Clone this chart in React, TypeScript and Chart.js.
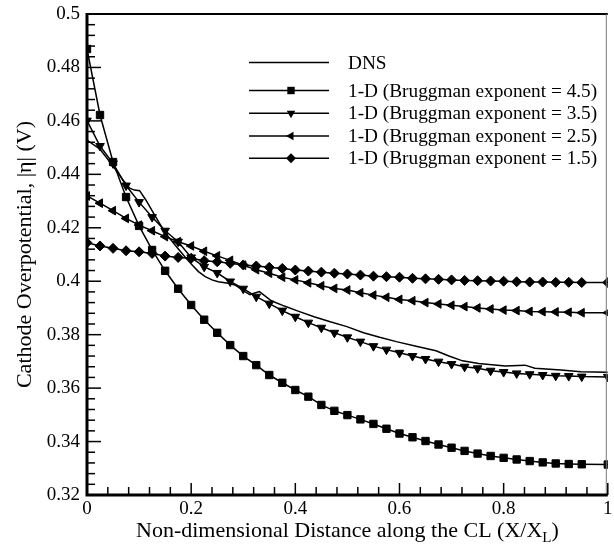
import React, { useEffect, useRef } from 'react';
import { Chart, registerables } from 'chart.js';

Chart.register(...registerables);

const X_MARK = [0, 0.025, 0.05, 0.075, 0.1, 0.125, 0.15, 0.175, 0.2, 0.225, 0.25, 0.275, 0.3, 0.325, 0.35, 0.375, 0.4, 0.425, 0.45, 0.475, 0.5, 0.525, 0.55, 0.575, 0.6, 0.625, 0.65, 0.675, 0.7, 0.725, 0.75, 0.775, 0.8, 0.825, 0.85, 0.875, 0.9, 0.925, 0.95, 1.0];

const BRUG_45 = [0.4869, 0.4622, 0.4446, 0.4315, 0.4207, 0.4117, 0.4039, 0.3972, 0.3911, 0.3856, 0.3807, 0.3761, 0.3720, 0.3686, 0.3649, 0.3620, 0.3593, 0.3568, 0.3537, 0.3515, 0.3499, 0.3483, 0.3466, 0.3448, 0.3430, 0.3416, 0.3402, 0.3389, 0.3377, 0.3365, 0.3355, 0.3346, 0.3339, 0.3333, 0.3327, 0.3322, 0.3318, 0.3316, 0.3315, 0.3314];
const BRUG_35 = [0.4601, 0.4506, 0.4441, 0.4358, 0.4296, 0.4240, 0.4189, 0.4148, 0.4089, 0.4054, 0.4031, 0.3999, 0.3972, 0.3942, 0.3916, 0.3890, 0.3867, 0.3845, 0.3826, 0.3807, 0.3790, 0.3774, 0.3757, 0.3744, 0.3732, 0.3720, 0.3709, 0.3699, 0.3690, 0.3680, 0.3674, 0.3665, 0.3660, 0.3655, 0.3652, 0.3649, 0.3646, 0.3645, 0.3643, 0.3642];
const BRUG_25 = [0.4319, 0.4292, 0.4264, 0.4235, 0.4210, 0.4189, 0.4167, 0.4148, 0.4132, 0.4112, 0.4095, 0.4078, 0.4060, 0.4043, 0.4030, 0.4015, 0.4005, 0.3994, 0.3983, 0.3973, 0.3967, 0.3957, 0.3948, 0.3940, 0.3932, 0.3927, 0.3920, 0.3915, 0.3910, 0.3905, 0.3900, 0.3896, 0.3892, 0.3890, 0.3887, 0.3886, 0.3885, 0.3884, 0.3882, 0.3882];
const BRUG_15 = [0.4144, 0.4132, 0.4123, 0.4114, 0.4110, 0.4104, 0.4094, 0.4089, 0.4086, 0.4077, 0.4073, 0.4067, 0.4061, 0.4057, 0.4052, 0.4048, 0.4042, 0.4038, 0.4034, 0.4030, 0.4027, 0.4023, 0.4019, 0.4017, 0.4015, 0.4011, 0.4009, 0.4007, 0.4005, 0.4003, 0.4002, 0.4001, 0.4000, 0.3998, 0.3997, 0.3997, 0.3996, 0.3996, 0.3995, 0.3995];

const DNS_X = [0, 0.025, 0.05, 0.069, 0.082, 0.091, 0.101, 0.113, 0.126, 0.139, 0.151, 0.164, 0.177, 0.189, 0.202, 0.214, 0.227, 0.240, 0.252, 0.271, 0.284, 0.303, 0.313, 0.331, 0.354, 0.379, 0.404, 0.436, 0.467, 0.499, 0.531, 0.562, 0.594, 0.632, 0.670, 0.695, 0.721, 0.752, 0.803, 0.841, 0.860, 0.910, 0.948, 1.0];
const DNS_Y = [0.4528, 0.4494, 0.4431, 0.4379, 0.4348, 0.4341, 0.4339, 0.4304, 0.4260, 0.4217, 0.4179, 0.4148, 0.4117, 0.4089, 0.4061, 0.4036, 0.4017, 0.4005, 0.3998, 0.3992, 0.3986, 0.3961, 0.3950, 0.3961, 0.3927, 0.3907, 0.3889, 0.3867, 0.3848, 0.3830, 0.3807, 0.3790, 0.3774, 0.3757, 0.3740, 0.3720, 0.3702, 0.3692, 0.3683, 0.3686, 0.3674, 0.3668, 0.3661, 0.3659];

const X_TICKS = [0, 0.2, 0.4, 0.6, 0.8, 1];
const Y_TICKS = [0.32, 0.34, 0.36, 0.38, 0.4, 0.42, 0.44, 0.46, 0.48, 0.5];
const LEGEND_LABELS = ['DNS', '1-D (Bruggman exponent = 4.5)', '1-D (Bruggman exponent = 3.5)', '1-D (Bruggman exponent = 2.5)', '1-D (Bruggman exponent = 1.5)'];
const X_TITLE = 'Non-dimensional Distance along the CL (X/X';
const X_TITLE_SUB = 'L';
const Y_TITLE = 'Cathode Overpotential, |\u03b7| (V)';

const FONT = '"Liberation Serif", "Times New Roman", serif';

const fmt = (v: number) => String(parseFloat(Number(v).toFixed(3)));

function drawMarker(ctx: CanvasRenderingContext2D, kind: string, x: number, y: number) {
  ctx.beginPath();
  if (kind === 'square') {
    ctx.rect(x - 3.7, y - 3.7, 7.4, 7.4);
  } else if (kind === 'down') {
    ctx.moveTo(x - 4.3, y - 2.5);
    ctx.lineTo(x + 4.3, y - 2.5);
    ctx.lineTo(x, y + 5);
  } else if (kind === 'left') {
    ctx.moveTo(x - 5, y);
    ctx.lineTo(x + 2.5, y - 4.3);
    ctx.lineTo(x + 2.5, y + 4.3);
  } else if (kind === 'diamond') {
    ctx.moveTo(x, y - 5);
    ctx.lineTo(x + 5, y);
    ctx.lineTo(x, y + 5);
    ctx.lineTo(x - 5, y);
  }
  ctx.closePath();
  ctx.fill();
}

const decorPlugin = {
  id: 'decor',
  afterDatasetsDraw(chart: any) {
    const { ctx, chartArea: a, scales } = chart;
    const xs = scales.x;
    const ys = scales.y;
    ctx.save();
    ctx.strokeStyle = '#000';
    ctx.fillStyle = '#000';
    // minor + major ticks (inward)
    ctx.lineWidth = 1.5;
    for (let i = 0; i <= 25; i++) {
      const v = i * 0.04;
      const px = xs.getPixelForValue(v);
      const len = i % 5 === 0 ? 12 : 8;
      ctx.beginPath();
      ctx.moveTo(px, a.bottom);
      ctx.lineTo(px, a.bottom - len);
      ctx.stroke();
    }
    for (let i = 0; i <= 45; i++) {
      const v = 0.32 + i * 0.004;
      const py = ys.getPixelForValue(v);
      const len = i % 5 === 0 ? 14 : 8;
      ctx.beginPath();
      ctx.moveTo(a.left, py);
      ctx.lineTo(a.left + len, py);
      ctx.stroke();
    }
    // frame
    ctx.lineWidth = 2;
    ctx.beginPath();
    ctx.moveTo(a.left, a.top);
    ctx.lineTo(a.right, a.top);
    ctx.stroke();
    ctx.strokeStyle = '#777';
    ctx.lineWidth = 1;
    ctx.beginPath();
    ctx.moveTo(a.right - 1.5, a.top);
    ctx.lineTo(a.right - 1.5, a.bottom);
    ctx.stroke();
    ctx.strokeStyle = '#000';
    ctx.lineWidth = 3;
    ctx.beginPath();
    ctx.moveTo(a.left, a.top - 1);
    ctx.lineTo(a.left, a.bottom);
    ctx.lineTo(a.right, a.bottom);
    ctx.stroke();

    // legend
    const rows = [62.5, 90.5, 113.3, 136, 158.3];
    const kinds = ['', 'square', 'down', 'left', 'diamond'];
    ctx.lineWidth = 1.5;
    ctx.font = '19.3px ' + FONT;
    ctx.textBaseline = 'middle';
    ctx.textAlign = 'left';
    for (let i = 0; i < LEGEND_LABELS.length; i++) {
      const y = rows[i];
      ctx.beginPath();
      ctx.moveTo(249, y);
      ctx.lineTo(329, y);
      ctx.stroke();
      if (kinds[i]) drawMarker(ctx, kinds[i], 291, y);
      ctx.fillText(LEGEND_LABELS[i], 348, y + 1);
    }

    // x title with subscript
    const TF = '22px ' + FONT;
    const SF = '15px ' + FONT;
    ctx.font = TF;
    ctx.textBaseline = 'alphabetic';
    const w1 = ctx.measureText(X_TITLE).width;
    ctx.font = SF;
    const w2 = ctx.measureText(X_TITLE_SUB).width;
    ctx.font = TF;
    const w3 = ctx.measureText(')').width;
    const cx = (a.left + a.right) / 2;
    let sx = cx - (w1 + w2 + w3) / 2;
    const by = 537;
    ctx.fillText(X_TITLE, sx, by);
    sx += w1;
    ctx.font = SF;
    ctx.fillText(X_TITLE_SUB, sx, by + 5);
    sx += w2;
    ctx.font = TF;
    ctx.fillText(')', sx, by);

    // y title
    ctx.save();
    ctx.translate(31, (a.top + a.bottom) / 2);
    ctx.rotate(-Math.PI / 2);
    ctx.textAlign = 'center';
    ctx.textBaseline = 'alphabetic';
    ctx.font = TF;
    ctx.fillText(Y_TITLE, 0, 0);
    ctx.restore();

    ctx.restore();
  },
};

export default function App() {
  const ref = useRef<HTMLCanvasElement>(null);
  useEffect(() => {
    const canvas = ref.current;
    if (!canvas) return;
    const mk = (ys: number[]) => X_MARK.map((x, i) => ({ x, y: ys[i] }));
    const base = {
      borderColor: '#000',
      backgroundColor: '#000',
      pointBackgroundColor: '#000',
      pointBorderColor: '#000',
      borderWidth: 1.5,
      pointBorderWidth: 1,
      fill: false,
      tension: 0,
    };
    const chart = new Chart(canvas, {
      type: 'line',
      data: {
        datasets: [
          { ...base, label: LEGEND_LABELS[0], data: DNS_X.map((x, i) => ({ x, y: DNS_Y[i] })), pointRadius: 0 },
          { ...base, label: LEGEND_LABELS[1], data: mk(BRUG_45), pointStyle: 'rect', pointRadius: 5.2 },
          { ...base, label: LEGEND_LABELS[2], data: mk(BRUG_35), pointStyle: 'triangle', pointRotation: 180, pointRadius: 5 },
          { ...base, label: LEGEND_LABELS[3], data: mk(BRUG_25), pointStyle: 'triangle', pointRotation: 270, pointRadius: 5 },
          { ...base, label: LEGEND_LABELS[4], data: mk(BRUG_15), pointStyle: 'rectRot', pointRadius: 5 },
        ] as any,
      },
      options: {
        animation: false,
        responsive: false,
        maintainAspectRatio: false,
        layout: { padding: { top: 14, right: 0, left: 0, bottom: 0 } },
        plugins: { legend: { display: false }, tooltip: { enabled: false } },
        scales: {
          x: {
            type: 'linear',
            min: 0,
            max: 1,
            grid: { display: false, drawTicks: false },
            border: { display: false },
            afterBuildTicks: (s: any) => { s.ticks = X_TICKS.map((v) => ({ value: v })); },
            afterFit: (s: any) => { s.height = 53; s.paddingLeft = 0; s.paddingRight = 0; },
            ticks: {
              color: '#000',
              font: { family: FONT, size: 19 },
              padding: 3,
              maxRotation: 0,
              autoSkip: false,
              callback: (v: any) => fmt(v),
            },
          },
          y: {
            type: 'linear',
            min: 0.32,
            max: 0.5,
            grid: { display: false, drawTicks: false },
            border: { display: false },
            afterBuildTicks: (s: any) => { s.ticks = Y_TICKS.map((v) => ({ value: v })); },
            afterFit: (s: any) => { s.width = 87; s.paddingTop = 0; s.paddingBottom = 0; },
            ticks: {
              color: '#000',
              font: { family: FONT, size: 19 },
              padding: 7,
              autoSkip: false,
              callback: (v: any) => fmt(v),
            },
          },
        },
      } as any,
      plugins: [decorPlugin],
    });
    return () => chart.destroy();
  }, []);
  return (
    <div style={{ position: 'fixed', left: 0, top: 0, width: 614, height: 548, overflow: 'hidden', background: '#fff' }}>
      <canvas ref={ref} width={614} height={548} style={{ width: 614, height: 548, display: 'block' }} />
    </div>
  );
}
